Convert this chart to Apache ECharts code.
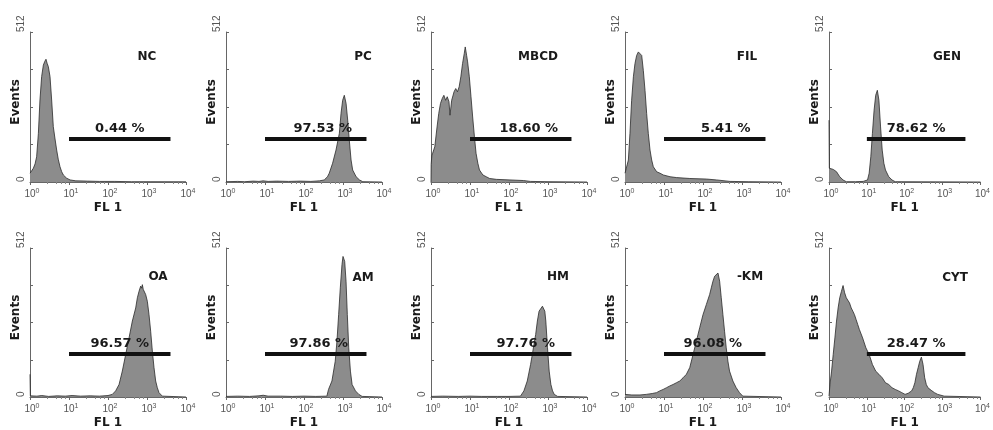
<!DOCTYPE html>
<html>
<head>
<meta charset="utf-8">
<script src="https://cdn.jsdelivr.net/npm/echarts@6/dist/echarts.min.js"></script>
<style>html,body{margin:0;padding:0;background:#fff}#chart{width:993px;height:430px}</style>
</head>
<body>
<div id="chart"></div>
<script>
// Sample names and gated percentages (FL1 positive region)
const sampleNames = ['NC', 'PC', 'MBCD', 'FIL', 'GEN', 'OA', 'AM', 'HM', '-KM', 'CYT'];
const gatePercents = [0.44, 97.53, 18.60, 5.41, 78.62, 96.57, 97.86, 97.76, 96.08, 28.47];
const gateRange = [10, 4000];     // FL1 marker limits
const gateEvents = 147;           // marker drawn at this event count
const fl1Range = [1, 10000];
const eventRange = [0, 512];
const eventLabels = [0, 512];

// Histograms: [FL1 intensity, events]
const histNC = [[1,30],[1.1,38],[1.22,47],[1.35,62],[1.48,86],[1.64,166],[1.8,280],[1.99,360],[2.2,399],[2.4,412],[2.57,419],[2.75,405],[2.95,394],[3.26,360],[3.59,280],[3.96,189],[4.35,150],[4.83,109],[5.3,78],[5.88,52],[6.5,35],[7.16,24],[8.7,13],[10.7,7],[15,4],[30,3],[60,2],[150,2],[400,1],[1200,1],[10000,1]];
const histPC = [[1,1],[2,2],[3,1],[5,3],[7,2],[9,4],[12,2],[20,3],[40,2],[80,3],[150,2],[250,4],[330,7],[400,18],[444,30],[541,64],[661,109],[806,166],[890,234],[980,279],[1080,296],[1200,268],[1320,211],[1450,143],[1610,75],[1770,41],[2170,18],[2650,7],[3220,1],[10000,0]];
const histMBCD = [[1,0],[1.01,60],[1.05,90],[1.1,98],[1.25,120],[1.43,188],[1.58,234],[1.75,268],[1.94,285],[2.14,296],[2.37,279],[2.61,291],[2.89,274],[3.07,228],[3.39,279],[3.9,308],[4.31,319],[4.77,308],[5.27,325],[5.82,359],[6.44,404],[7.11,438],[7.55,461],[8.19,432],[8.69,410],[9.61,359],[10.6,291],[11.7,222],[13,154],[14.3,98],[15.9,64],[17.5,41],[21.4,24],[26.1,18],[31.9,12],[47.7,9],[106,7],[236,5],[354,2],[1000,1],[10000,0]];
const histFIL = [[1,30],[1.1,28],[1.22,75],[1.34,166],[1.48,279],[1.64,359],[1.8,404],[1.99,432],[2.2,444],[2.42,449],[2.68,432],[2.95,381],[3.26,313],[3.59,234],[3.96,166],[4.38,109],[4.83,75],[5.33,52],[6.49,35],[7.89,30],[9.61,24],[14.3,18],[21.1,15],[46,12],[124,10],[224,7],[494,2],[1500,1],[10000,0]];
const histGEN = [[1,211],[1.02,47],[1.29,43],[1.58,35],[1.92,18],[2.35,7],[2.86,1],[5,1],[8,2],[10.4,7],[11.5,30],[12.7,86],[14,166],[15.5,245],[17.1,296],[18.9,313],[20.8,279],[23,188],[25.4,109],[28.1,64],[31,41],[37.8,18],[46.1,7],[56,1],[10000,0]];
const histOA = [[1,78],[1.02,4],[1.5,3],[2,5],[3,2],[5,4],[8,3],[12,5],[20,3],[35,4],[60,3],[100,5],[129,9],[157,21],[192,43],[233,89],[284,146],[346,203],[421,261],[513,306],[566,341],[624,363],[689,381],[730,374],[760,386],[800,370],[838,375],[925,352],[1020,329],[1126,283],[1242,226],[1370,158],[1512,101],[1668,55],[1840,32],[2030,15],[2470,3],[10000,0]];
const histAM = [[1,2],[2,3],[4,2],[7,4],[9,6],[12,3],[25,3],[50,2],[100,3],[200,2],[386,3],[425,26],[520,55],[632,123],[700,192],[773,283],[853,375],[942,455],[1000,483],[1105,466],[1196,398],[1290,283],[1403,169],[1549,89],[1711,43],[2088,21],[2543,9],[3100,2],[10000,0]];
const histHM = [[1,2],[2,3],[5,2],[10,3],[20,2],[50,2],[100,2],[197,3],[241,21],[294,55],[358,112],[396,146],[437,181],[483,215],[534,261],[590,295],[652,289],[720,312],[764,318],[828,295],[879,261],[971,169],[1072,89],[1186,43],[1309,21],[1446,9],[1765,2],[10000,0]];
const histKM = [[1,9],[1.5,7],[2.42,7],[3.5,9],[5,12],[6.44,15],[7.83,21],[9.52,26],[11.6,32],[14.1,38],[17.1,43],[20.8,49],[25.4,55],[30.8,66],[37.5,78],[45.7,101],[55.6,146],[67.6,192],[82.2,238],[100,283],[122,318],[148,352],[163,375],[180,398],[199,415],[219,421],[242,426],[267,398],[294,341],[324,283],[357,226],[394,169],[435,123],[479,89],[583,55],[709,32],[863,15],[1048,3],[10000,0]];
const histCYT = [[1,3],[1.06,43],[1.17,89],[1.29,146],[1.43,203],[1.58,261],[1.74,306],[1.92,341],[2.13,363],[2.35,383],[2.59,358],[2.86,341],[3.16,335],[3.49,323],[3.86,306],[4.26,295],[4.7,283],[5.2,266],[5.74,249],[6.34,232],[7.73,203],[9.42,169],[11.5,146],[14,112],[17.1,89],[20.8,78],[25.4,66],[31,49],[37.8,43],[46.1,32],[56.2,26],[68.6,21],[83.6,15],[102,9],[124,13],[152,21],[168,32],[185,49],[204,78],[226,101],[249,123],[275,137],[304,112],[336,66],[371,43],[409,32],[499,23],[608,15],[742,9],[906,6],[1100,3],[10000,0]];

const histograms = [histNC, histPC, histMBCD, histFIL, histGEN, histOA, histAM, histHM, histKM, histCYT];

// Panel layout (pixels)
const colLeft = [30, 226, 431, 625, 829];
const rowTop = [32, 248];
const plotW = 156, plotH = 150;
const titleXY = [[147,57],[363,57],[538,57],[747,57],[947,57],[158,277],[363,278],[558,277],[750,277],[955,278]];
const pctShift = [0, 7, 8, 11, 0, 0, 3, 5, -2, 0];

const boldFont = '"DejaVu Sans", Verdana, sans-serif';
const tickFont = '"Liberation Sans", Arial, sans-serif';

const grid = [], xAxis = [], yAxis = [], series = [], graphic = [];

histograms.forEach((hist, i) => {
  const row = Math.floor(i / 5), col = i % 5;
  grid.push({ left: colLeft[col], top: rowTop[row], width: plotW, height: plotH });

  xAxis.push({
    gridIndex: i, type: 'log', logBase: 10, min: fl1Range[0], max: fl1Range[1],
    name: 'FL 1', nameLocation: 'middle', nameGap: 20, nameMoveOverlap: false,
    nameTextStyle: { fontFamily: boldFont, fontWeight: 'bold', fontSize: 12, color: '#1a1a1a' },
    axisLine: { show: true, onZero: false, lineStyle: { color: '#666', width: 1 } },
    axisTick: { show: true, length: 3, lineStyle: { color: '#666' } },
    minorTick: { show: true, splitNumber: 5, length: 2, lineStyle: { color: '#888' } },
    splitLine: { show: false },
    axisLabel: {
      margin: 6,
      formatter: v => '{b|10}{s|' + Math.round(Math.log10(v)) + '}',
      rich: {
        b: { fontFamily: tickFont, fontSize: 10, color: '#555', padding: [0, 0, 0, 4], lineHeight: 12 },
        s: { fontFamily: tickFont, fontSize: 7, color: '#555', verticalAlign: 'top', lineHeight: 7 }
      }
    }
  });

  yAxis.push({
    gridIndex: i, type: 'value', min: eventRange[0], max: eventRange[1], interval: 128,
    name: 'Events', nameLocation: 'middle', nameGap: 8, nameRotate: 90, nameMoveOverlap: false,
    nameTextStyle: { fontFamily: boldFont, fontWeight: 'bold', fontSize: 12, color: '#1a1a1a', padding: [0, 0, 0, 10] },
    axisLine: { show: true, lineStyle: { color: '#666', width: 1 } },
    axisTick: { show: true, inside: true, length: 3, lineStyle: { color: '#666' } },
    splitLine: { show: false },
    axisLabel: {
      rotate: 90, margin: 4, fontFamily: tickFont, fontSize: 10, color: '#555',
      align: 'left', verticalAlign: 'bottom',
      formatter: v => (eventLabels.indexOf(v) >= 0 ? String(v) : '')
    }
  });

  series.push({
    type: 'line', xAxisIndex: i, yAxisIndex: i, data: hist,
    symbol: 'none', silent: true, animation: false,
    lineStyle: { color: '#2b2b2b', width: 0.8 },
    areaStyle: { color: '#8c8c8c', opacity: 1 },
    markLine: {
      silent: true, symbol: 'none', animation: false,
      lineStyle: { color: '#111', width: 4, type: 'solid' },
      label: {
        show: true, position: 'middle', distance: 4, offset: [pctShift[i], 0],
        formatter: gatePercents[i].toFixed(2) + ' %',
        fontFamily: boldFont, fontWeight: 'bold', fontSize: 13, color: '#1a1a1a'
      },
      data: [[{ coord: [gateRange[0], gateEvents] }, { coord: [gateRange[1], gateEvents] }]]
    }
  });

  graphic.push({
    type: 'text', x: titleXY[i][0], y: titleXY[i][1], silent: true,
    style: {
      text: sampleNames[i], fill: '#1a1a1a',
      font: 'bold 12px ' + boldFont, textAlign: 'center', textVerticalAlign: 'middle'
    }
  });
});

const chart = echarts.init(document.getElementById('chart'), null, { renderer: 'canvas' });
chart.setOption({
  backgroundColor: '#ffffff',
  animation: false,
  grid, xAxis, yAxis, series, graphic
});
</script>
</body>
</html>
